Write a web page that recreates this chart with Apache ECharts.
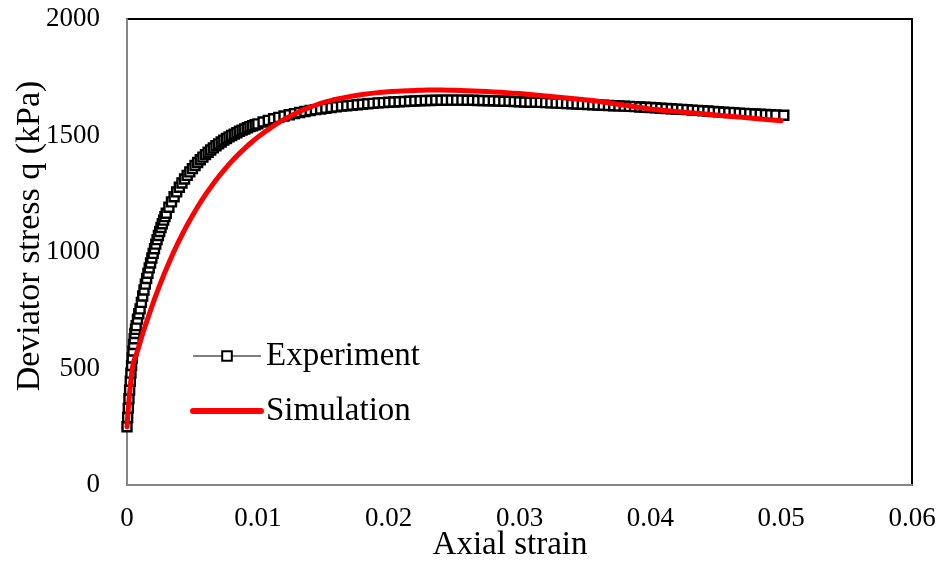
<!DOCTYPE html>
<html>
<head>
<meta charset="utf-8">
<script src="https://cdn.jsdelivr.net/npm/echarts@6/dist/echarts.min.js"></script>
<style>
  html, body { margin: 0; padding: 0; background: #fff; }
  #chart-id { width: 942px; height: 563px; }
</style>
</head>
<body>
<div id="chart-id"></div>
<script>
// experiment: axial strain / deviator stress (kPa)
var expStrain = [
  0, 0.00005, 0.0001, 0.00015, 0.0002, 0.00025, 0.0003, 0.00035, 0.0004, 0.00045,
  0.0005, 0.00055, 0.0006, 0.00065, 0.0007, 0.0008, 0.0009, 0.001, 0.0011, 0.0012,
  0.0013, 0.0014, 0.0015, 0.0016, 0.0017, 0.0018, 0.0019, 0.002, 0.0021, 0.0022,
  0.0023, 0.0024, 0.0025, 0.0026, 0.0027, 0.0028, 0.0029, 0.003, 0.0032, 0.0034,
  0.0036, 0.0038, 0.004, 0.0042, 0.0044, 0.0046, 0.0048, 0.005, 0.0052, 0.0054,
  0.0056, 0.0058, 0.006, 0.0062, 0.0064, 0.0066, 0.0068, 0.007, 0.0072, 0.0074,
  0.0076, 0.0078, 0.008, 0.0082, 0.0084, 0.0086, 0.0088, 0.009, 0.0092, 0.0094,
  0.0096, 0.0098, 0.01, 0.0104, 0.0108, 0.0112, 0.0116, 0.012, 0.0124, 0.0128,
  0.0132, 0.0136, 0.014, 0.0144, 0.0148, 0.0152, 0.0156, 0.016, 0.0164, 0.0168,
  0.0172, 0.0176, 0.018, 0.0184, 0.0188, 0.0192, 0.0196, 0.02, 0.0204, 0.0208,
  0.0212, 0.0216, 0.022, 0.0224, 0.0228, 0.0232, 0.0236, 0.024, 0.0244, 0.0248,
  0.0252, 0.0256, 0.026, 0.0264, 0.0268, 0.0272, 0.0276, 0.028, 0.0284, 0.0288,
  0.0292, 0.0296, 0.03, 0.0304, 0.0308, 0.0312, 0.0316, 0.032, 0.0324, 0.0328,
  0.0332, 0.0336, 0.034, 0.0344, 0.0348, 0.0352, 0.0356, 0.036, 0.0364, 0.0368,
  0.0372, 0.0376, 0.038, 0.0384, 0.0388, 0.0392, 0.0396, 0.04, 0.0404, 0.0408,
  0.0412, 0.0416, 0.042, 0.0424, 0.0428, 0.0432, 0.0436, 0.044, 0.0444, 0.0448,
  0.0452, 0.0456, 0.046, 0.0464, 0.0468, 0.0472, 0.0476, 0.048, 0.0484, 0.0488,
  0.0492, 0.0496, 0.0502
];
var expStress = [
  250, 290, 330, 370, 408, 445, 480, 513, 545, 575,
  603, 628, 650, 668, 684, 712, 735, 756, 784, 811,
  837, 862, 886, 909, 932, 953, 974, 994, 1014, 1034,
  1053, 1071, 1088, 1105, 1121, 1137, 1152, 1166, 1192, 1215,
  1237, 1258, 1278, 1296, 1313, 1329, 1344, 1358, 1371, 1384,
  1396, 1407, 1418, 1428, 1438, 1447, 1456, 1464, 1472, 1480,
  1487, 1494, 1500, 1506, 1512, 1518, 1523, 1528, 1533, 1538,
  1542, 1546, 1550, 1558, 1565, 1572, 1578, 1584, 1589, 1594,
  1599, 1603, 1607, 1611, 1614, 1617, 1620, 1623, 1626, 1628,
  1630, 1632, 1634, 1636, 1638, 1640, 1641, 1643, 1644, 1645,
  1646, 1647, 1648, 1649, 1650, 1650, 1651, 1651, 1652, 1652,
  1652, 1652, 1651, 1651, 1650, 1650, 1649, 1649, 1648, 1647,
  1647, 1646, 1645, 1644, 1643, 1643, 1642, 1641, 1640, 1639,
  1638, 1637, 1636, 1635, 1634, 1633, 1632, 1631, 1630, 1629,
  1628, 1627, 1626, 1625, 1624, 1622, 1621, 1620, 1619, 1617,
  1616, 1615, 1613, 1612, 1611, 1609, 1608, 1606, 1605, 1603,
  1602, 1600, 1599, 1598, 1596, 1595, 1594, 1592, 1591, 1590,
  1589, 1588, 1587
];

// simulation
var simStrain = [
  0, 0.0001, 0.0002, 0.0003, 0.0004, 0.0005, 0.0006, 0.0008, 0.001, 0.0012,
  0.0014, 0.0016, 0.0018, 0.002, 0.0022, 0.0024, 0.0026, 0.0028, 0.003, 0.0032,
  0.0034, 0.0036, 0.0038, 0.004, 0.0042, 0.0044, 0.0046, 0.0048, 0.005, 0.0055,
  0.006, 0.0065, 0.007, 0.0075, 0.008, 0.0085, 0.009, 0.0095, 0.01, 0.0105,
  0.011, 0.0115, 0.012, 0.0125, 0.013, 0.0135, 0.014, 0.0145, 0.015, 0.016,
  0.017, 0.018, 0.019, 0.02, 0.021, 0.022, 0.023, 0.024, 0.025, 0.026,
  0.027, 0.028, 0.029, 0.03, 0.032, 0.034, 0.036, 0.038, 0.04, 0.042,
  0.044, 0.046, 0.048, 0.05
];
var simStress = [
  250, 330, 395, 450, 497, 527, 545, 575, 612, 650,
  684, 717, 750, 782, 813, 843, 872, 900, 927, 953,
  979, 1004, 1028, 1051, 1073, 1095, 1116, 1136, 1156, 1203,
  1246, 1286, 1323, 1357, 1389, 1418, 1445, 1470, 1493, 1514,
  1534, 1552, 1569, 1584, 1598, 1611, 1622, 1632, 1641, 1656,
  1667, 1676, 1683, 1688, 1691, 1693, 1695, 1695, 1694, 1692,
  1690, 1687, 1684, 1680, 1670, 1659, 1647, 1630, 1614, 1603,
  1593, 1583, 1573, 1563
];

var xTicks = [0, 0.01, 0.02, 0.03, 0.04, 0.05, 0.06];
var yTicks = [0, 500, 1000, 1500, 2000];

function pairs(xs, ys) {
  return xs.map(function (x, i) { return [x, ys[i]]; });
}

var chartDom = document.getElementById("chart-id");
var chart = echarts.init(chartDom, null, { renderer: "canvas" });
var serif = "Liberation Serif";
var axisGray = "#868686";

chart.setOption({
  backgroundColor: "#fff",
  animation: false,
  grid: {
    left: 127,
    right: 30,
    top: 19,
    bottom: 78,
    show: true,
    borderColor: "#000",
    borderWidth: 2,
    backgroundColor: "transparent"
  },
  legend: {
    orient: "vertical",
    left: 190,
    top: 338,
    padding: 0,
    itemWidth: 68,
    itemHeight: 12,
    itemGap: 19,
    textStyle: {
      fontFamily: serif,
      fontSize: 33,
      color: "#000",
      lineHeight: 36
    },
    data: [
      { name: "Experiment" },
      { name: "Simulation", itemStyle: { opacity: 0 }, lineStyle: { width: 6, cap: "round" } }
    ]
  },
  xAxis: {
    type: "value",
    min: xTicks[0],
    max: xTicks[xTicks.length - 1],
    interval: 0.01,
    axisLine: { show: true, lineStyle: { color: axisGray, width: 2 } },
    axisTick: { show: false },
    splitLine: { show: false },
    axisLabel: {
      margin: 20,
      fontFamily: serif,
      fontSize: 27,
      color: "#000",
      formatter: function (v) { return String(+v.toFixed(2)); }
    }
  },
  yAxis: {
    type: "value",
    min: yTicks[0],
    max: yTicks[yTicks.length - 1],
    interval: 500,
    axisLine: { show: true, lineStyle: { color: axisGray, width: 2 } },
    axisTick: { show: false },
    splitLine: { show: false },
    axisLabel: {
      margin: 27,
      fontFamily: serif,
      fontSize: 27,
      color: "#000",
      formatter: function (v) { return String(v); }
    }
  },
  graphic: [
    {
      type: "text",
      x: 510,
      y: 545,
      style: {
        text: "Axial strain",
        fontFamily: serif,
        fontSize: 33,
        fill: "#000",
        align: "center",
        verticalAlign: "middle"
      }
    },
    {
      type: "text",
      x: 30,
      y: 236,
      rotation: Math.PI / 2,
      style: {
        text: "Deviator stress q (kPa)",
        fontFamily: serif,
        fontSize: 34,
        fill: "#000",
        align: "center",
        verticalAlign: "middle"
      }
    }
  ],
  series: [
    {
      name: "Experiment",
      type: "line",
      data: pairs(expStrain, expStress),
      showAllSymbol: true,
      symbol: "rect",
      symbolSize: 9,
      itemStyle: { color: "#fff", borderColor: "#000", borderWidth: 2.4 },
      lineStyle: { color: "#7f7f7f", width: 1 },
      z: 2
    },
    {
      name: "Simulation",
      type: "line",
      data: pairs(simStrain, simStress),
      showSymbol: false,
      symbol: "none",
      smooth: 0.3,
      lineStyle: { color: "#ff0000", width: 5, cap: "round", join: "round" },
      itemStyle: { color: "#ff0000" },
      z: 3
    }
  ]
});
</script>
</body>
</html>
